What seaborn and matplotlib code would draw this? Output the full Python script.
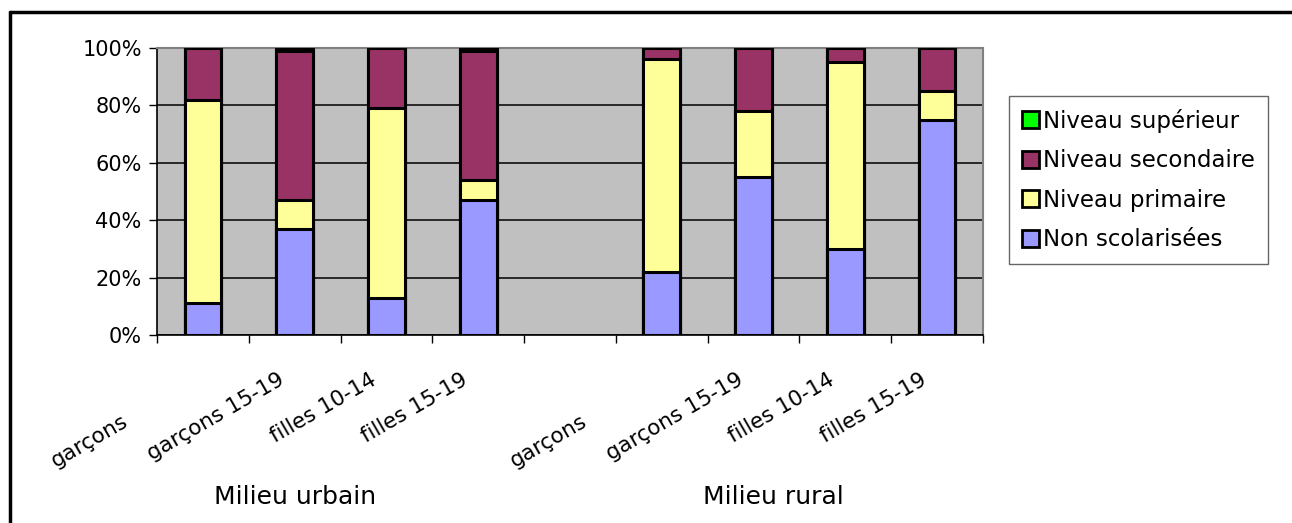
import pandas as pd
import numpy as np
import matplotlib
matplotlib.use("Agg")
import matplotlib.pyplot as plt
import matplotlib.transforms as mtransforms
from matplotlib.patches import Patch
from matplotlib.lines import Line2D
import seaborn as sns

# Data (percent of each group)
keys = ["u_g", "u_g15", "u_f10", "u_f15", "gap", "r_g", "r_g15", "r_f10", "r_f15"]
tick_labels = ["garçons", "garçons 15-19", "filles 10-14", "filles 15-19", "",
               "garçons", "garçons 15-19", "filles 10-14", "filles 15-19"]
bar_keys = ["u_g", "u_g15", "u_f10", "u_f15", "r_g", "r_g15", "r_f10", "r_f15"]
non_scol = [11, 37, 13, 47, 22, 55, 30, 75]
primaire = [71, 10, 66, 7, 74, 23, 65, 10]
secondaire = [18, 52, 21, 45, 4, 22, 5, 15]
superieur = [0, 1, 0, 1, 0, 0, 0, 0]
series_names = ["Non scolarisées", "Niveau primaire", "Niveau secondaire", "Niveau supérieur"]
series_colors = ["#9999FF", "#FFFF99", "#993366", "#00FF00"]
group_labels = ["Milieu urbain", "Milieu rural"]

sns.set_theme(style="white")
plt.rcParams["font.family"] = ["DejaVu Sans"]
plt.rcParams["text.color"] = "black"
plt.rcParams["xtick.color"] = "black"
plt.rcParams["ytick.color"] = "black"

fig = plt.figure(figsize=(12.92, 5.23), dpi=100)
ax = fig.add_axes([157 / 1292, 1 - 335 / 523, (983 - 157) / 1292, (335 - 48) / 523])
ax.set_facecolor("#C0C0C0")

# stacked bars: draw cumulative totals from the top layer down
df = pd.DataFrame({"cat": bar_keys, "s0": non_scol, "s1": primaire,
                   "s2": secondaire, "s3": superieur})
cum = df[["s0", "s1", "s2", "s3"]].cumsum(axis=1)
for i in range(3, -1, -1):
    sns.barplot(x=df["cat"], y=cum.iloc[:, i], order=keys, color=series_colors[i],
                saturation=1, width=0.4, edgecolor="black", linewidth=2.2,
                errorbar=None, ax=ax, zorder=3)

ax.set_xlim(-0.5, 8.5)
ax.set_ylim(0, 100)
ax.set_yticks([0, 20, 40, 60, 80, 100])
ax.set_yticklabels([f"{v}%" for v in [0, 20, 40, 60, 80, 100]], fontsize=15)
ax.yaxis.grid(True, color="black", linewidth=1.1, zorder=0)
ax.set_axisbelow(True)
ax.tick_params(axis="y", direction="out", length=6, width=1, color="black", pad=5, left=True)

# ticks between categories, labels at the centres
ax.set_xticks(np.arange(-0.5, 9, 1))
ax.set_xticklabels([])
ax.set_xticks(np.arange(0, 9), minor=True)
ax.set_xticklabels(tick_labels, minor=True, rotation=30, ha="right", va="center",
                   rotation_mode="anchor", fontsize=15.5)
ax.tick_params(axis="x", which="major", direction="out", length=6, width=1,
               color="black", bottom=True)
ax.tick_params(axis="x", which="minor", length=0, pad=31)
ax.set_xlabel("")
ax.set_ylabel("")
for i, lab in enumerate(ax.get_xticklabels(minor=True)):
    dx, dy = -12, 0
    if tick_labels[i] == "garçons":
        dx, dy = -76, -42
    lab.set_transform(lab.get_transform() +
                      mtransforms.ScaledTranslation(dx / 100, dy / 100, fig.dpi_scale_trans))

for side in ["left", "bottom"]:
    ax.spines[side].set_color("black")
    ax.spines[side].set_linewidth(1.2)
for side in ["top", "right"]:
    ax.spines[side].set_color("#808080")
    ax.spines[side].set_linewidth(1.5)

# group captions
trans = mtransforms.blended_transform_factory(ax.transAxes, fig.transFigure)
ax.text(0.167, 1 - 497 / 523, group_labels[0], transform=trans, ha="center",
        va="center", fontsize=18)
ax.text(0.746, 1 - 497 / 523, group_labels[1], transform=trans, ha="center",
        va="center", fontsize=18)

# legend (top layer first)
handles = [Patch(facecolor=series_colors[i], edgecolor="black", linewidth=2)
           for i in range(3, -1, -1)]
leg = fig.legend(handles, series_names[::-1], loc="upper left",
                 bbox_to_anchor=(1009 / 1292, 1 - 96 / 523), fontsize=16.5,
                 frameon=True, fancybox=False, handlelength=0.75, handleheight=0.75,
                 handletextpad=0.2, labelspacing=0.72, borderpad=0.55, borderaxespad=0)
leg.get_frame().set_edgecolor("#404040")
leg.get_frame().set_linewidth(1)

# outer chart frame
fig.add_artist(Line2D([10 / 1292, 1], [1 - 12 / 523, 1 - 12 / 523],
                      transform=fig.transFigure, color="black", linewidth=2.5))
fig.add_artist(Line2D([10 / 1292, 10 / 1292], [0, 1 - 12 / 523],
                      transform=fig.transFigure, color="black", linewidth=2.5))

fig.savefig("out.png", dpi=100)
